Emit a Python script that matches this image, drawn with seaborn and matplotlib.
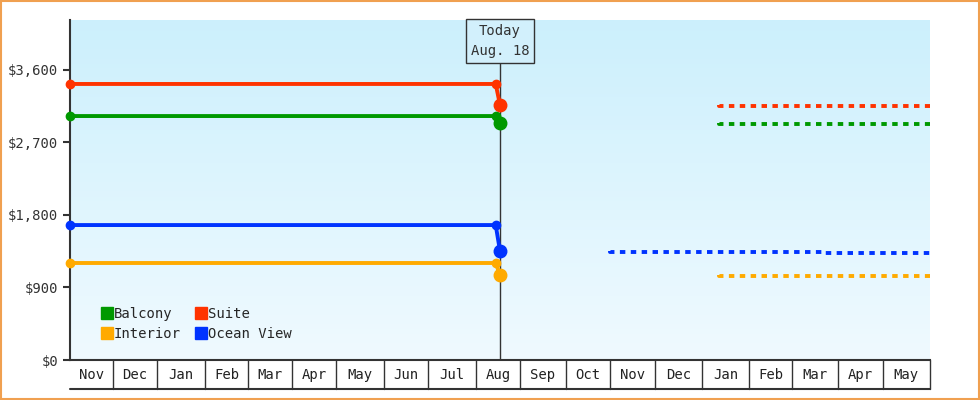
import numpy as np
import seaborn as sns
import matplotlib.pyplot as plt
import matplotlib.transforms as mtransforms

sns.set_style("white")
plt.rcParams['font.family'] = ['DejaVu Sans Mono']

# x in month units from start of axis
months = ["Nov", "Dec", "Jan", "Feb", "Mar", "Apr", "May", "Jun", "Jul", "Aug",
          "Sep", "Oct", "Nov", "Dec", "Jan", "Feb", "Mar", "Apr", "May"]
cell_edges = [0, 1.0, 2.02, 3.14, 4.14, 5.16, 6.19, 7.3, 8.33, 9.44, 10.47,
              11.53, 12.56, 13.6, 14.7, 15.8, 16.8, 17.86, 18.9, 20.0]
today_x = 10.0

hist_x = [0, 9.9]
series = ["Balcony", "Interior", "Suite", "Ocean View"]
colors = {"Balcony": "#009900", "Suite": "#ff3300", "Interior": "#ffaa00", "Ocean View": "#0033ff"}
hist_price = {"Balcony": 3028, "Suite": 3426, "Interior": 1204, "Ocean View": 1675}
fut_x = {"Balcony": [10.0, 15.1, 20.0], "Suite": [10.0, 15.1, 20.0],
         "Interior": [10.0, 15.1, 20.0], "Ocean View": [10.0, 12.56, 17.5, 20.0]}
fut_price = {"Balcony": [2942, 2930, 2930], "Suite": [3165, 3150, 3150],
             "Interior": [1055, 1042, 1042], "Ocean View": [1353, 1340, 1328, 1328]}
yticks = [0, 900, 1800, 2700, 3600]

fig = plt.figure(figsize=(9.8, 4), dpi=100)
ax = fig.add_axes([70/980, 40/400, 860/980, 340/400])

grad = np.linspace(0, 1, 256).reshape(-1, 1)
top = np.array([0.80, 0.94, 0.99])
bot = np.array([0.94, 0.98, 1.0])
img = top + (bot - top) * grad[:, :, None]
ax.imshow(img, extent=[0, 20, 0, 4220], aspect="auto", zorder=0, origin="upper")
ax.set_xlim(0, 20)
ax.set_ylim(0, 4220)

for s in series:
    c = colors[s]
    xs = hist_x + [today_x]
    ys = [hist_price[s], hist_price[s], fut_price[s][0]]
    sns.lineplot(x=xs, y=ys, ax=ax, color=c, lw=2.8, sort=False, zorder=3)
    ax.plot(hist_x, [hist_price[s]] * 2, "o", color=c, ms=6, zorder=4, clip_on=False)
    ax.plot([today_x], [fut_price[s][0]], "o", color=c, ms=9, zorder=4)
    fx, fy = [], []
    for i, (x, y) in enumerate(zip(fut_x[s], fut_price[s])):
        if i > 0:
            fx.append(x); fy.append(fut_price[s][i - 1])
        fx.append(x); fy.append(y)
    ax.plot(fx[1:], fy[1:], color=c, lw=2.8, dashes=(1.4, 1.4), zorder=3)
    ax.plot([], [], "s", color=c, ms=9, label=s)

ax.axvline(today_x, color="#333333", lw=1, zorder=2)
ax.text(today_x, 3960, "Today\nAug. 18", ha="center", va="center", fontsize=10,
        color="#333333", linespacing=1.5,
        bbox=dict(boxstyle="square,pad=0.35", fc="#d2f0fc", ec="#333333", lw=1), zorder=5)

ax.set_yticks(yticks)
ax.set_yticklabels([f"${v:,}" for v in yticks], fontsize=10, color="#333333")
ax.tick_params(axis="y", length=5, width=1.5, color="#333333", left=True)
ax.set_xticks([])
for sp in ["top", "right"]:
    ax.spines[sp].set_visible(False)
for sp in ["left", "bottom"]:
    ax.spines[sp].set_linewidth(1.5)
    ax.spines[sp].set_color("#333333")

trans = mtransforms.blended_transform_factory(ax.transData, ax.transAxes)
for i, m in enumerate(months):
    ax.text((cell_edges[i] + cell_edges[i + 1]) / 2, -0.045, m, transform=trans,
            ha="center", va="center", fontsize=10, color="#222222")
for e in cell_edges[1:]:
    ax.plot([e, e], [0, -0.085], transform=trans, color="#333333", lw=1, clip_on=False)
ax.plot([0, 20], [-0.085, -0.085], transform=trans, color="#333333", lw=1.5, clip_on=False)

ax.legend(loc="lower left", bbox_to_anchor=(0.02, 0.02), ncol=2, frameon=False,
          fontsize=10, handletextpad=0.0, columnspacing=1.0, handlelength=1,
          labelspacing=0.4)

fig.patches.append(plt.Rectangle((0.001, 0.002), 0.998, 0.996, transform=fig.transFigure,
                                 fill=False, ec="#f0a050", lw=1.5))
fig.savefig("out.png", dpi=100)
